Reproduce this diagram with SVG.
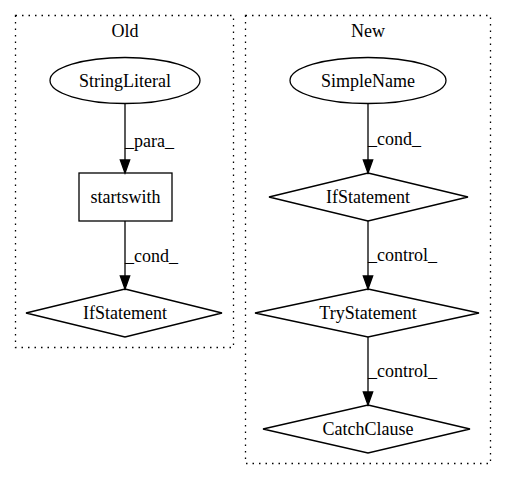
<svg xmlns="http://www.w3.org/2000/svg" width="507" height="480" viewBox="0 0 507 480">
<style>
text{font-family:"Liberation Serif","Times New Roman",serif;font-size:18px;fill:#000}
.c{text-anchor:middle}
.n{fill:none;stroke:#000;stroke-width:1.3}
.cl{fill:none;stroke:#000;stroke-width:1.3;stroke-dasharray:1.5,5}
.e{stroke:#000;stroke-width:1.3;fill:none}
.a{fill:#000;stroke:#000;stroke-width:1.3}
</style>
<rect width="507" height="480" fill="#fff"/>
<g id="cluster_old">
<rect class="cl" x="15.5" y="15.5" width="218" height="332"/>
<text class="c" x="125" y="37">Old</text>
</g>
<g id="cluster_new">
<rect class="cl" x="245.5" y="15.5" width="245" height="448"/>
<text class="c" x="368" y="37">New</text>
</g>
<g id="old_StringLiteral">
<ellipse class="n" cx="125" cy="80.5" rx="75" ry="23"/>
<text class="c" x="125" y="86.5">StringLiteral</text>
</g>
<g id="old_startswith">
<rect class="n" x="79" y="173" width="93" height="48"/>
<text class="c" x="125.5" y="203">startswith</text>
</g>
<g id="old_IfStatement">
<polygon class="n" points="125,289 222,313 125,337 26,313"/>
<text class="c" x="125" y="319">IfStatement</text>
</g>
<g id="new_SimpleName">
<ellipse class="n" cx="368" cy="80.5" rx="78" ry="23"/>
<text class="c" x="368" y="86.5">SimpleName</text>
</g>
<g id="new_IfStatement">
<polygon class="n" points="368,173 468,197 368,221 269,197"/>
<text class="c" x="368" y="203">IfStatement</text>
</g>
<g id="new_TryStatement">
<polygon class="n" points="368,289 479,313 368,337 255,313"/>
<text class="c" x="368" y="319">TryStatement</text>
</g>
<g id="new_CatchClause">
<polygon class="n" points="368,405 470,429 368,453 263,429"/>
<text class="c" x="368" y="435">CatchClause</text>
</g>
<g id="connectors">
<line class="e" x1="125" y1="103.5" x2="125" y2="160"/>
<polygon class="a" points="120.3,160 129.7,160 125,173"/>
<text x="125" y="147">_para_</text>
<line class="e" x1="125" y1="221" x2="125" y2="276"/>
<polygon class="a" points="120.3,276 129.7,276 125,289"/>
<text x="125" y="262">_cond_</text>
<line class="e" x1="368" y1="103.5" x2="368" y2="160"/>
<polygon class="a" points="363.3,160 372.7,160 368,173"/>
<text x="368" y="145">_cond_</text>
<line class="e" x1="368" y1="221" x2="368" y2="276"/>
<polygon class="a" points="363.3,276 372.7,276 368,289"/>
<text x="368" y="261">_control_</text>
<line class="e" x1="368" y1="337" x2="368" y2="392"/>
<polygon class="a" points="363.3,392 372.7,392 368,405"/>
<text x="368" y="377">_control_</text>
</g>
</svg>
